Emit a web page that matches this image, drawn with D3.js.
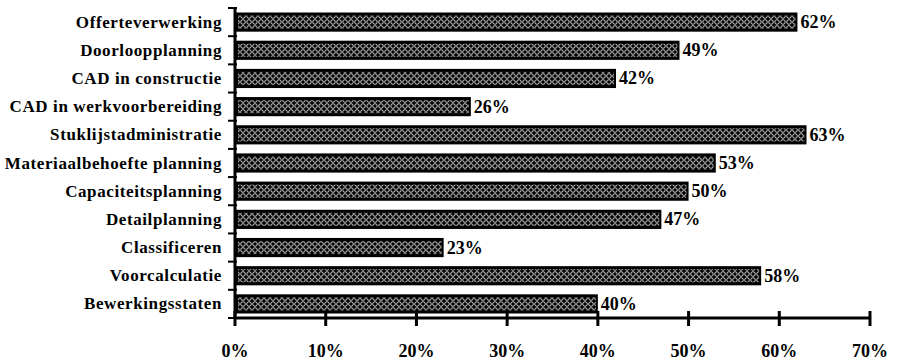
<!DOCTYPE html>
<html><head><meta charset="utf-8">
<script src="https://cdn.jsdelivr.net/npm/d3@7"></script>
<style>body{margin:0;background:#fff}svg{display:block}</style>
</head><body>
<script>
const categories = ["Offerteverwerking","Doorloopplanning","CAD in constructie","CAD in werkvoorbereiding","Stuklijstadministratie","Materiaalbehoefte planning","Capaciteitsplanning","Detailplanning","Classificeren","Voorcalculatie","Bewerkingsstaten"];
const values = [62,49,42,26,63,53,50,47,23,58,40];
const xTicks = [0,10,20,30,40,50,60,70];

const W=898,H=361;
const svg=d3.select("body").append("svg").attr("width",W).attr("height",H);
const defs=svg.append("defs");
const pat=defs.append("pattern").attr("id","hatch").attr("patternUnits","userSpaceOnUse")
  .attr("width",6).attr("height",6).attr("x",0).attr("y",1);
pat.append("rect").attr("width",6).attr("height",6).attr("fill","#000");
pat.append("circle").attr("cx",3).attr("cy",3).attr("r",2.3).attr("fill","none").attr("stroke","#fff").attr("stroke-width",0.8);

const x=d3.scaleLinear().domain([0,70]).range([235,870]);
const y=d3.scaleBand().domain(categories).range([8,318]).paddingInner(0.32).paddingOuter(0.16);
const band=d3.scaleBand().domain(categories).range([8,318]);

const g=svg.append("g");
const bars=g.selectAll("g.bar").data(categories).join("g");
bars.append("rect").attr("x",x(0)).attr("y",d=>y(d)).attr("width",(d,i)=>x(values[i])-x(0))
  .attr("height",y.bandwidth()).attr("fill","#000");
bars.append("rect").attr("x",x(0)+3).attr("y",d=>y(d)+3).attr("width",(d,i)=>x(values[i])-x(0)-5)
  .attr("height",y.bandwidth()-6).attr("fill","url(#hatch)");
bars.append("text").attr("x",(d,i)=>x(values[i])+3).attr("y",d=>y(d)+y.bandwidth()/2+6)
  .attr("font-family","Liberation Serif").attr("font-weight","bold")
  .attr("font-size",18).text((d,i)=>values[i]+"%");

g.append("line").attr("x1",x(0)).attr("x2",x(0)).attr("y1",8).attr("y2",318).attr("stroke","#000").attr("stroke-width",3);
const yb=[8,...categories.map(c=>band(c)+band.bandwidth())];
g.selectAll("line.yt").data(yb).join("line").attr("x1",x(0)-7).attr("x2",x(0)+2)
  .attr("y1",d=>d).attr("y2",d=>d).attr("stroke","#000").attr("stroke-width",2);
g.selectAll("text.cat").data(categories).join("text").attr("x",222)
  .attr("y",d=>band(d)+band.bandwidth()/2+5.5).attr("text-anchor","end")
  .attr("font-family","Liberation Serif").attr("font-weight","bold").attr("font-size",17)
  .attr("letter-spacing",0.6).text(d=>d);

g.append("line").attr("x1",x(0)).attr("x2",x(70)).attr("y1",318).attr("y2",318).attr("stroke","#000").attr("stroke-width",3);
g.selectAll("line.xt").data(xTicks).join("line").attr("x1",d=>x(d)).attr("x2",d=>x(d))
  .attr("y1",311).attr("y2",326).attr("stroke","#000").attr("stroke-width",3);
g.selectAll("text.xt").data(xTicks).join("text").attr("x",d=>x(d)).attr("y",357).attr("text-anchor","middle")
  .attr("font-family","Liberation Serif").attr("font-weight","bold")
  .attr("font-size",18).text(d=>d+"%");
</script>
</body></html>
